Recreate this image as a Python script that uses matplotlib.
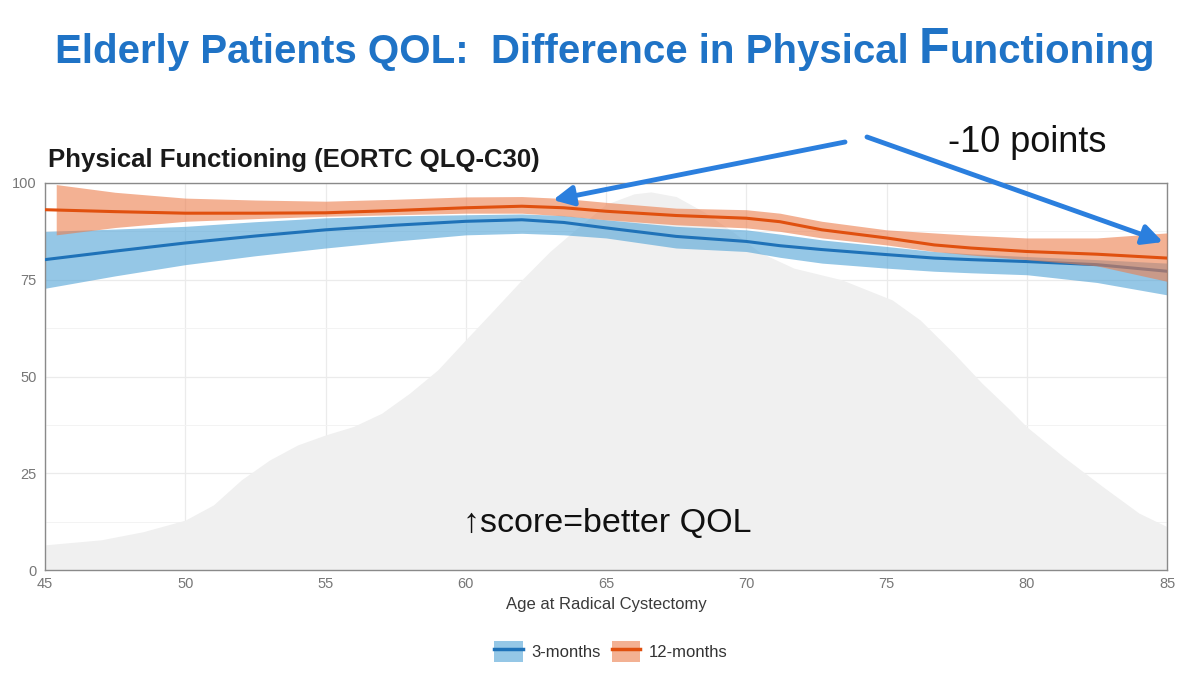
import matplotlib
matplotlib.use("Agg")
import matplotlib.pyplot as plt
from matplotlib.patches import Patch
from matplotlib.lines import Line2D

plt.rcParams['font.family'] = ['Liberation Sans', 'DejaVu Sans']

# values
ages = [45, 47.5, 50, 52.5, 55, 57.5, 60, 62, 63.5, 65, 67.5, 70, 71.2, 72.7, 75, 76.7, 78, 80, 82.5, 85]

pf_3m = [80.2, 82.4, 84.5, 86.3, 87.9, 89.1, 90.1, 90.5, 89.8, 88.4, 86.2, 84.9, 83.8, 82.8, 81.5, 80.6, 80.2, 79.7, 78.9, 77.2]
pf_3m_lo = [72.8, 76.0, 78.9, 81.2, 83.2, 85.0, 86.6, 87.0, 86.6, 85.8, 83.2, 82.3, 80.8, 79.3, 78.0, 77.2, 76.8, 76.3, 74.3, 71.1]
pf_3m_hi = [87.5, 88.1, 88.8, 90.0, 91.0, 91.5, 91.8, 92.0, 91.6, 90.5, 88.8, 87.9, 86.8, 85.3, 83.6, 82.3, 81.7, 81.0, 80.2, 79.3]

pf_12m = [93.1, 92.6, 92.2, 92.2, 92.3, 92.9, 93.6, 94.0, 93.6, 92.7, 91.6, 90.9, 90.0, 87.9, 85.8, 84.0, 83.2, 82.3, 81.6, 80.6]
# ribbon is cut off where its upper edge leaves the panel, so it starts a bit later
band_ages_12m = [45.4] + ages[1:]
pf_12m_lo = [86.6, 88.5, 90.1, 90.8, 91.4, 91.8, 92.2, 92.2, 91.5, 90.5, 89.2, 88.4, 87.5, 85.8, 84.0, 82.3, 81.4, 80.2, 78.6, 74.6]
pf_12m_hi = [99.6, 97.6, 96.1, 95.6, 95.3, 95.8, 96.4, 96.5, 96.0, 95.0, 93.5, 93.1, 92.2, 90.1, 87.9, 87.1, 86.5, 85.8, 85.8, 87.1]

# age distribution in the background (scaled to the score axis)
dens_ages = [45, 47, 48.5, 50, 51, 52, 53, 54, 55, 56, 57, 58, 59, 60, 61, 62, 63, 64, 65, 66,
             66.6, 67.5, 68.5, 69.5, 70.5, 71.7, 73.4, 75.2, 76.2, 77.4, 78.4, 79.4, 80, 81.3, 82.7, 84, 85]
dens = [6.5, 7.8, 9.9, 12.9, 16.8, 23.3, 28.4, 32.3, 34.9, 37.1, 40.5, 45.7, 51.7, 59.5, 67.2, 75, 82.3, 88.5, 94.5, 97.2,
        97.7, 96.5, 92.5, 87.5, 82, 78, 75, 69.8, 64.6, 56, 48.3, 41.4, 37, 29.3, 21.6, 14.7, 11.2]

x_ticks = [45, 50, 55, 60, 65, 70, 75, 80, 85]
y_ticks = [0, 25, 50, 75, 100]

blue_line = '#1f72b8'
blue_fill = '#4fa2d6'
orange_line = '#e0500f'
orange_fill = '#ec7d4c'
arrow_blue = '#2b7fde'

fig = plt.figure(figsize=(12, 6.76), dpi=100)
ax = fig.add_axes([45 / 1200, 106 / 676, 1122 / 1200, 387 / 676])

ax.fill_between(dens_ages, 0, dens, color='#f0f0f0', lw=0, zorder=1)
ax.fill_between(ages, pf_3m_lo, pf_3m_hi, color=blue_fill, alpha=0.6, lw=0, zorder=2)
ax.plot(ages, pf_3m, color=blue_line, lw=2.2, zorder=3)
ax.fill_between(band_ages_12m, pf_12m_lo, pf_12m_hi, color=orange_fill, alpha=0.6, lw=0, zorder=4)
ax.plot(ages, pf_12m, color=orange_line, lw=2.2, zorder=5)

ax.set_xlim(45, 85)
ax.set_ylim(0, 100)
ax.set_xticks(x_ticks)
ax.set_yticks(y_ticks)
ax.set_yticks([12.5, 37.5, 62.5, 87.5], minor=True)
ax.grid(True, which='major', color='#ebebeb', lw=0.9, zorder=0)
ax.grid(True, which='minor', axis='y', color='#f3f3f3', lw=0.7, zorder=0)
ax.set_axisbelow(True)
ax.tick_params(which='both', length=0, labelsize=10.5, labelcolor='#777777')
ax.tick_params(axis='y', pad=6)
ax.tick_params(axis='x', pad=5)
for s in ax.spines.values():
    s.set_color('#8a8a8a')
    s.set_linewidth(1.0)
ax.set_xlabel('Age at Radical Cystectomy', fontsize=12, color='#3a3a3a', labelpad=4)

ax.text(59.9, 12, '\u2191score=better QOL', fontsize=24.5, color='#111111', ha='left', va='center',
        zorder=6)

# legend below the panel
handles = [(Patch(facecolor=blue_fill, alpha=0.6), Line2D([], [], color=blue_line, lw=2.5)),
           (Patch(facecolor=orange_fill, alpha=0.6), Line2D([], [], color=orange_line, lw=2.5))]
fig.legend(handles, ['3-months', '12-months'], loc='center', bbox_to_anchor=(0.509, 0.036),
           ncol=2, frameon=False, fontsize=12, handlelength=1.7, handleheight=1.6,
           columnspacing=0.7, handletextpad=0.5, labelcolor='#333333')

# panel title
fig.text(48 / 1200, 1 - 160 / 676, 'Physical Functioning (EORTC QLQ-C30)', fontsize=18.5,
         fontweight='bold', color='#1a1a1a', ha='left', va='center')

# slide title, the F of Functioning is set larger
title_color = '#1f73c6'
y_base = 1 - 63 / 676
fig.canvas.draw()
r = fig.canvas.get_renderer()
t1 = fig.text(55 / 1200, y_base, 'Elderly Patients QOL:  Difference in Physical', fontsize=29,
              fontweight='bold', color=title_color, ha='left', va='baseline')
x = t1.get_window_extent(r).x1 + 10
t2 = fig.text(x / 1200, y_base, 'F', fontsize=36, fontweight='bold', color=title_color,
              ha='left', va='baseline')
x = t2.get_window_extent(r).x1
fig.text(x / 1200, y_base, 'unctioning', fontsize=29, fontweight='bold', color=title_color,
         ha='left', va='baseline')

# -10 points callout
fig.text(948 / 1200, 1 - 143 / 676, '-10 points', fontsize=26, color='#111111', ha='left', va='center')
arrow = dict(arrowstyle='-|>', color=arrow_blue, lw=3.5, mutation_scale=30, shrinkA=0, shrinkB=0)
ax.annotate('', xy=(553 / 1200, 1 - 200 / 676), xytext=(845 / 1200, 1 - 142 / 676),
            xycoords='figure fraction', textcoords='figure fraction', arrowprops=arrow,
            annotation_clip=False, zorder=10)
ax.annotate('', xy=(1163 / 1200, 1 - 242 / 676), xytext=(867 / 1200, 1 - 137 / 676),
            xycoords='figure fraction', textcoords='figure fraction', arrowprops=arrow,
            annotation_clip=False, zorder=10)

fig.savefig('out.png', dpi=100, facecolor='white')
